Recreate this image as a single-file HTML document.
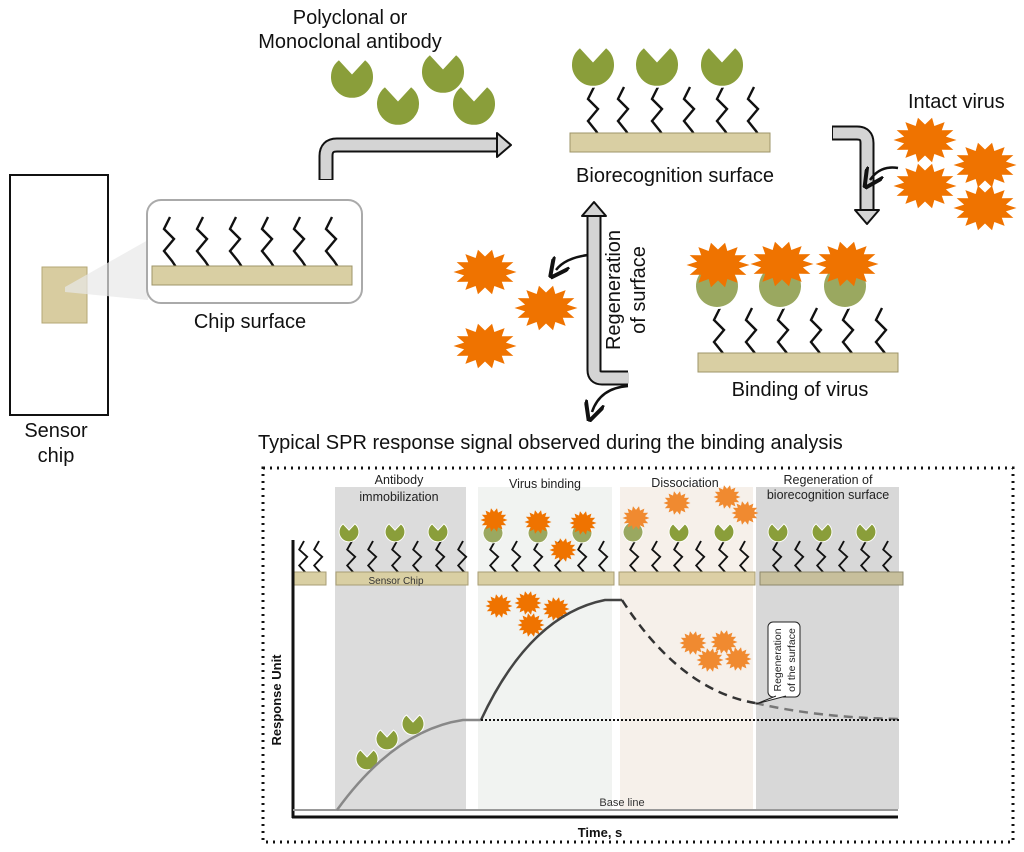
<!DOCTYPE html>
<html><head><meta charset="utf-8"><style>
html,body{margin:0;padding:0;background:#fff;}
svg{display:block;font-family:"Liberation Sans",Arial,sans-serif;}
</style></head><body>
<svg width="1024" height="852" viewBox="0 0 1024 852" xmlns="http://www.w3.org/2000/svg">
<defs>
<path id="ab" d="M -13,-18 L 0,-4 L 13,-18 A 22 22 0 1 1 -13,-18 Z" fill="#8a9e3a" stroke="#fff" stroke-width="2"/>
<path id="abc" d="M 0,-22 A 22 22 0 1 1 -0.01,-22 Z" fill="#9aa860" stroke="#fff" stroke-width="2"/>
<polyline id="zz" points="0,0 -6,12 4,22 -6,34 2,44 6,50" fill="none" stroke="#111" stroke-width="2.4" stroke-linejoin="miter"/>
<polygon id="vir" fill="#ef7300" points="30,0 19.9,3.6 27,10.4 16,10.2 18.7,18.8 8.9,14.7 6.7,23.4 0,16.3 -6.7,23.4 -8.9,14.7 -18.7,18.8 -16,10.2 -27,10.4 -19.9,3.6 -30,0 -19.9,-3.6 -27,-10.4 -16,-10.2 -18.7,-18.8 -8.9,-14.7 -6.7,-23.4 0,-16.3 6.7,-23.4 8.9,-14.7 18.7,-18.8 16,-10.2 27,-10.4 19.9,-3.6"/>
<polygon id="virL" fill="#f08a30" points="30,0 19.9,3.6 27,10.4 16,10.2 18.7,18.8 8.9,14.7 6.7,23.4 0,16.3 -6.7,23.4 -8.9,14.7 -18.7,18.8 -16,10.2 -27,10.4 -19.9,3.6 -30,0 -19.9,-3.6 -27,-10.4 -16,-10.2 -18.7,-18.8 -8.9,-14.7 -6.7,-23.4 0,-16.3 6.7,-23.4 8.9,-14.7 18.7,-18.8 16,-10.2 27,-10.4 19.9,-3.6"/>
<marker id="ah" markerWidth="8" markerHeight="8" refX="4" refY="4" orient="auto"><path d="M0,0 L8,4 L0,8" fill="none" stroke="#111" stroke-width="1.6"/></marker>
</defs>

<!-- Sensor chip -->
<rect x="10" y="175" width="98" height="240" fill="#fff" stroke="#111" stroke-width="2"/>
<rect x="42" y="267" width="45" height="56" fill="#d8cca0" stroke="#b4a776"/>
<polygon points="65,287 148,240 148,300 65,292" fill="#e8e8e8" opacity="0.7"/>
<rect x="147" y="200" width="215" height="103" rx="14" fill="#fff" stroke="#aaa" stroke-width="2"/>
<g>
<use href="#zz" x="170" y="217"/><use href="#zz" x="203" y="217"/><use href="#zz" x="236" y="217"/><use href="#zz" x="268" y="217"/><use href="#zz" x="300" y="217"/><use href="#zz" x="332" y="217"/>
</g>
<rect x="152" y="266" width="200" height="19" fill="#d9cfa3" stroke="#9e9468"/>
<text x="250" y="328" font-size="20" text-anchor="middle" fill="#111">Chip surface</text>
<text x="56" y="437" font-size="20" text-anchor="middle" fill="#111">Sensor</text>
<text x="56" y="462" font-size="20" text-anchor="middle" fill="#111">chip</text>

<!-- top antibodies -->
<text x="350" y="24" font-size="20" text-anchor="middle" fill="#111">Polyclonal or</text>
<text x="350" y="48" font-size="20" text-anchor="middle" fill="#111">Monoclonal antibody</text>
<use href="#ab" x="352" y="77"/><use href="#ab" x="443" y="72"/><use href="#ab" x="398" y="104"/><use href="#ab" x="474" y="104"/>

<!-- arrow 1 -->
<path d="M326,180 L326,156 Q326,145 337,145 L500,145" fill="none" stroke="#111" stroke-width="15"/>
<path d="M326,179 L326,156 Q326,145 337,145 L501,145" fill="none" stroke="#d4d4d4" stroke-width="11"/>
<polygon points="497,133 511,145 497,157" fill="#d4d4d4" stroke="#111" stroke-width="2" stroke-linejoin="round"/>

<!-- Biorecognition surface -->
<use href="#zz" x="594" y="87"/><use href="#zz" x="624" y="87"/><use href="#zz" x="658" y="87"/><use href="#zz" x="690" y="87"/><use href="#zz" x="723" y="87"/><use href="#zz" x="754" y="87"/>
<use href="#ab" x="593" y="65"/><use href="#ab" x="657" y="65"/><use href="#ab" x="722" y="65"/>
<rect x="570" y="133" width="200" height="19" fill="#d9cfa3" stroke="#9e9468"/>
<text x="675" y="182" font-size="20" text-anchor="middle" fill="#111">Biorecognition surface</text>

<!-- arrow 2 -->
<path d="M832,133 L857,133 Q867,133 867,143 L867,212" fill="none" stroke="#111" stroke-width="15"/>
<path d="M833,133 L857,133 Q867,133 867,143 L867,213" fill="none" stroke="#d4d4d4" stroke-width="11"/>
<polygon points="855,210 867,224 879,210" fill="#d4d4d4" stroke="#111" stroke-width="2" stroke-linejoin="round"/>
<text x="908" y="108" font-size="20" fill="#111">Intact virus</text>
<use href="#vir" transform="translate(925,140) scale(1.05,0.95)"/>
<use href="#vir" transform="translate(985,165) scale(1.05,0.95)"/>
<use href="#vir" transform="translate(925,186) scale(1.05,0.95)"/>
<use href="#vir" transform="translate(985,208) scale(1.05,0.95)"/>
<path d="M898,168 Q880,165 870,180" fill="none" stroke="#111" stroke-width="2.5" marker-end="url(#ah)"/>

<!-- Binding of virus -->
<use href="#zz" x="720" y="308"/><use href="#zz" x="752" y="308"/><use href="#zz" x="784" y="308"/><use href="#zz" x="817" y="308"/><use href="#zz" x="849" y="308"/><use href="#zz" x="882" y="308"/>
<use href="#abc" x="717" y="286"/><use href="#abc" x="780" y="286"/><use href="#abc" x="845" y="286"/>
<use href="#vir" transform="translate(718,265) scale(1.05,0.95)"/>
<use href="#vir" transform="translate(782,264) scale(1.05,0.95)"/>
<use href="#vir" transform="translate(847,264) scale(1.05,0.95)"/>
<rect x="698" y="353" width="200" height="19" fill="#d9cfa3" stroke="#9e9468"/>
<text x="800" y="396" font-size="20" text-anchor="middle" fill="#111">Binding of virus</text>

<!-- regeneration arrow -->
<path d="M594,214 L594,370 Q594,378 602,378 L628,378" fill="none" stroke="#111" stroke-width="15"/>
<path d="M594,213 L594,370 Q594,378 602,378 L629,378" fill="none" stroke="#d4d4d4" stroke-width="11"/>
<polygon points="582,216 594,202 606,216" fill="#d4d4d4" stroke="#111" stroke-width="2" stroke-linejoin="round"/>
<text transform="translate(620,290) rotate(-90)" font-size="20" text-anchor="middle" fill="#111">Regeneration</text>
<text transform="translate(645,290) rotate(-90)" font-size="20" text-anchor="middle" fill="#111">of surface</text>
<path d="M588,255 Q565,258 556,270" fill="none" stroke="#111" stroke-width="2.5" marker-end="url(#ah)"/>
<path d="M628,386 Q600,388 592,412" fill="none" stroke="#111" stroke-width="2.5" marker-end="url(#ah)"/>
<use href="#vir" transform="translate(485,272) scale(1.05,0.95)"/>
<use href="#vir" transform="translate(546,308) scale(1.05,0.95)"/>
<use href="#vir" transform="translate(485,346) scale(1.05,0.95)"/>

<!-- chart -->
<text x="258" y="449" font-size="20" fill="#111">Typical SPR response signal observed during the binding analysis</text>
<rect x="263" y="468" width="750" height="374" fill="none" stroke="#111" stroke-width="3" stroke-dasharray="2,5"/>
<rect x="335" y="487" width="131" height="322" fill="#dcdcdc"/>
<rect x="478" y="487" width="134" height="322" fill="#f1f3f1"/>
<rect x="620" y="487" width="133" height="322" fill="#f6f0ea"/>
<rect x="756" y="487" width="143" height="322" fill="#d8d8d8"/>
<g font-size="12.5" fill="#222" text-anchor="middle">
<text x="399" y="484">Antibody</text><text x="399" y="501">immobilization</text>
<text x="545" y="488">Virus binding</text>
<text x="685" y="487">Dissociation</text>
<text x="828" y="484">Regeneration of</text><text x="828" y="499">biorecognition surface</text>
</g>
<g>
<use href="#zz" transform="translate(304,541) scale(0.8,0.72)"/><use href="#zz" transform="translate(319,541) scale(0.8,0.72)"/>
<use href="#zz" transform="translate(352,541) scale(0.8,0.72)"/><use href="#zz" transform="translate(373,541) scale(0.8,0.72)"/><use href="#zz" transform="translate(397,541) scale(0.8,0.72)"/><use href="#zz" transform="translate(418,541) scale(0.8,0.72)"/><use href="#zz" transform="translate(441,541) scale(0.8,0.72)"/><use href="#zz" transform="translate(463,541) scale(0.8,0.72)"/>
<use href="#zz" transform="translate(495,541) scale(0.8,0.72)"/><use href="#zz" transform="translate(517,541) scale(0.8,0.72)"/><use href="#zz" transform="translate(539,541) scale(0.8,0.72)"/><use href="#zz" transform="translate(560,541) scale(0.8,0.72)"/><use href="#zz" transform="translate(583,541) scale(0.8,0.72)"/><use href="#zz" transform="translate(604,541) scale(0.8,0.72)"/>
<use href="#zz" transform="translate(635,541) scale(0.8,0.72)"/><use href="#zz" transform="translate(657,541) scale(0.8,0.72)"/><use href="#zz" transform="translate(679,541) scale(0.8,0.72)"/><use href="#zz" transform="translate(701,541) scale(0.8,0.72)"/><use href="#zz" transform="translate(724,541) scale(0.8,0.72)"/><use href="#zz" transform="translate(745,541) scale(0.8,0.72)"/>
<use href="#zz" transform="translate(778,541) scale(0.8,0.72)"/><use href="#zz" transform="translate(800,541) scale(0.8,0.72)"/><use href="#zz" transform="translate(822,541) scale(0.8,0.72)"/><use href="#zz" transform="translate(844,541) scale(0.8,0.72)"/><use href="#zz" transform="translate(866,541) scale(0.8,0.72)"/><use href="#zz" transform="translate(888,541) scale(0.8,0.72)"/>
</g>
<rect x="292" y="572" width="34" height="13" fill="#d9cfa3" stroke="#a89e74"/>
<rect x="336" y="572" width="132" height="13" fill="#d9cfa3" stroke="#a89e74"/>
<rect x="478" y="572" width="136" height="13" fill="#d9cfa3" stroke="#a89e74"/>
<rect x="619" y="572" width="136" height="13" fill="#dccfa5" stroke="#a89e74"/>
<rect x="760" y="572" width="143" height="13" fill="#c7bf9c" stroke="#8e886c"/>
<text x="396" y="584" font-size="10" text-anchor="middle" fill="#333">Sensor Chip</text>
<use href="#ab" transform="translate(349,532) scale(0.45)"/>
<use href="#ab" transform="translate(395,532) scale(0.45)"/>
<use href="#ab" transform="translate(438,532) scale(0.45)"/>
<use href="#abc" transform="translate(493,533) scale(0.45)"/>
<use href="#abc" transform="translate(538,533) scale(0.45)"/>
<use href="#abc" transform="translate(582,533) scale(0.45)"/>
<use href="#vir" transform="translate(494,520) scale(0.45,0.5)"/>
<use href="#vir" transform="translate(538,522) scale(0.45,0.5)"/>
<use href="#vir" transform="translate(583,523) scale(0.45,0.5)"/>
<use href="#vir" transform="translate(563,550) scale(0.45,0.5)"/>
<use href="#abc" transform="translate(633,532) scale(0.45)"/>
<use href="#virL" transform="translate(636,518) scale(0.45,0.5)"/>
<use href="#ab" transform="translate(679,532) scale(0.45)"/>
<use href="#ab" transform="translate(724,532) scale(0.45)"/>
<use href="#virL" transform="translate(677,503) scale(0.45,0.5)"/>
<use href="#virL" transform="translate(727,497) scale(0.45,0.5)"/>
<use href="#virL" transform="translate(745,513) scale(0.45,0.5)"/>
<use href="#ab" transform="translate(778,532) scale(0.45)"/>
<use href="#ab" transform="translate(822,532) scale(0.45)"/>
<use href="#ab" transform="translate(866,532) scale(0.45)"/>
<use href="#vir" transform="translate(499,606) scale(0.45,0.5)"/>
<use href="#vir" transform="translate(528,603) scale(0.45,0.5)"/>
<use href="#vir" transform="translate(556,609) scale(0.45,0.5)"/>
<use href="#vir" transform="translate(531,625) scale(0.45,0.5)"/>
<use href="#virL" transform="translate(693,643) scale(0.45,0.5)"/>
<use href="#virL" transform="translate(724,642) scale(0.45,0.5)"/>
<use href="#virL" transform="translate(710,660) scale(0.45,0.5)"/>
<use href="#virL" transform="translate(738,659) scale(0.45,0.5)"/>
<use href="#ab" transform="translate(367,759) scale(0.5)"/>
<use href="#ab" transform="translate(387,739) scale(0.5)"/>
<use href="#ab" transform="translate(413,724) scale(0.5)"/>
<!-- axes -->
<line x1="293" y1="540" x2="293" y2="818" stroke="#111" stroke-width="3"/>
<line x1="292" y1="817" x2="898" y2="817" stroke="#111" stroke-width="3"/>
<line x1="293" y1="810" x2="898" y2="810" stroke="#999" stroke-width="2"/>
<text x="622" y="806" font-size="11" text-anchor="middle" fill="#333">Base line</text>
<text x="600" y="837" font-size="13" font-weight="bold" text-anchor="middle" fill="#111">Time, s</text>
<text transform="translate(281,700) rotate(-90)" font-size="13" font-weight="bold" text-anchor="middle" fill="#111">Response Unit</text>
<path d="M337,810 Q395,730 463,720 L481,720" fill="none" stroke="#888" stroke-width="2.5"/>
<path d="M481,720 Q530,615 605,600 L622,600" fill="none" stroke="#444" stroke-width="2.5"/>
<path d="M622,600 Q680,690 755,703" fill="none" stroke="#333" stroke-width="2.5" stroke-dasharray="9,6"/>
<path d="M755,703 Q820,718 900,719" fill="none" stroke="#777" stroke-width="2.5" stroke-dasharray="9,6"/>
<line x1="481" y1="720" x2="900" y2="720" stroke="#111" stroke-width="2" stroke-dasharray="2,2"/>
<rect x="768" y="622" width="32" height="75" rx="5" fill="#fff" stroke="#222"/>
<path d="M776,696 L756,704 L786,696" fill="#fff" stroke="#222"/>
<text transform="translate(781,660) rotate(-90)" font-size="10.5" text-anchor="middle" fill="#222">Regeneration</text>
<text transform="translate(795,660) rotate(-90)" font-size="10.5" text-anchor="middle" fill="#222">of the surface</text>
</svg>
</body></html>
